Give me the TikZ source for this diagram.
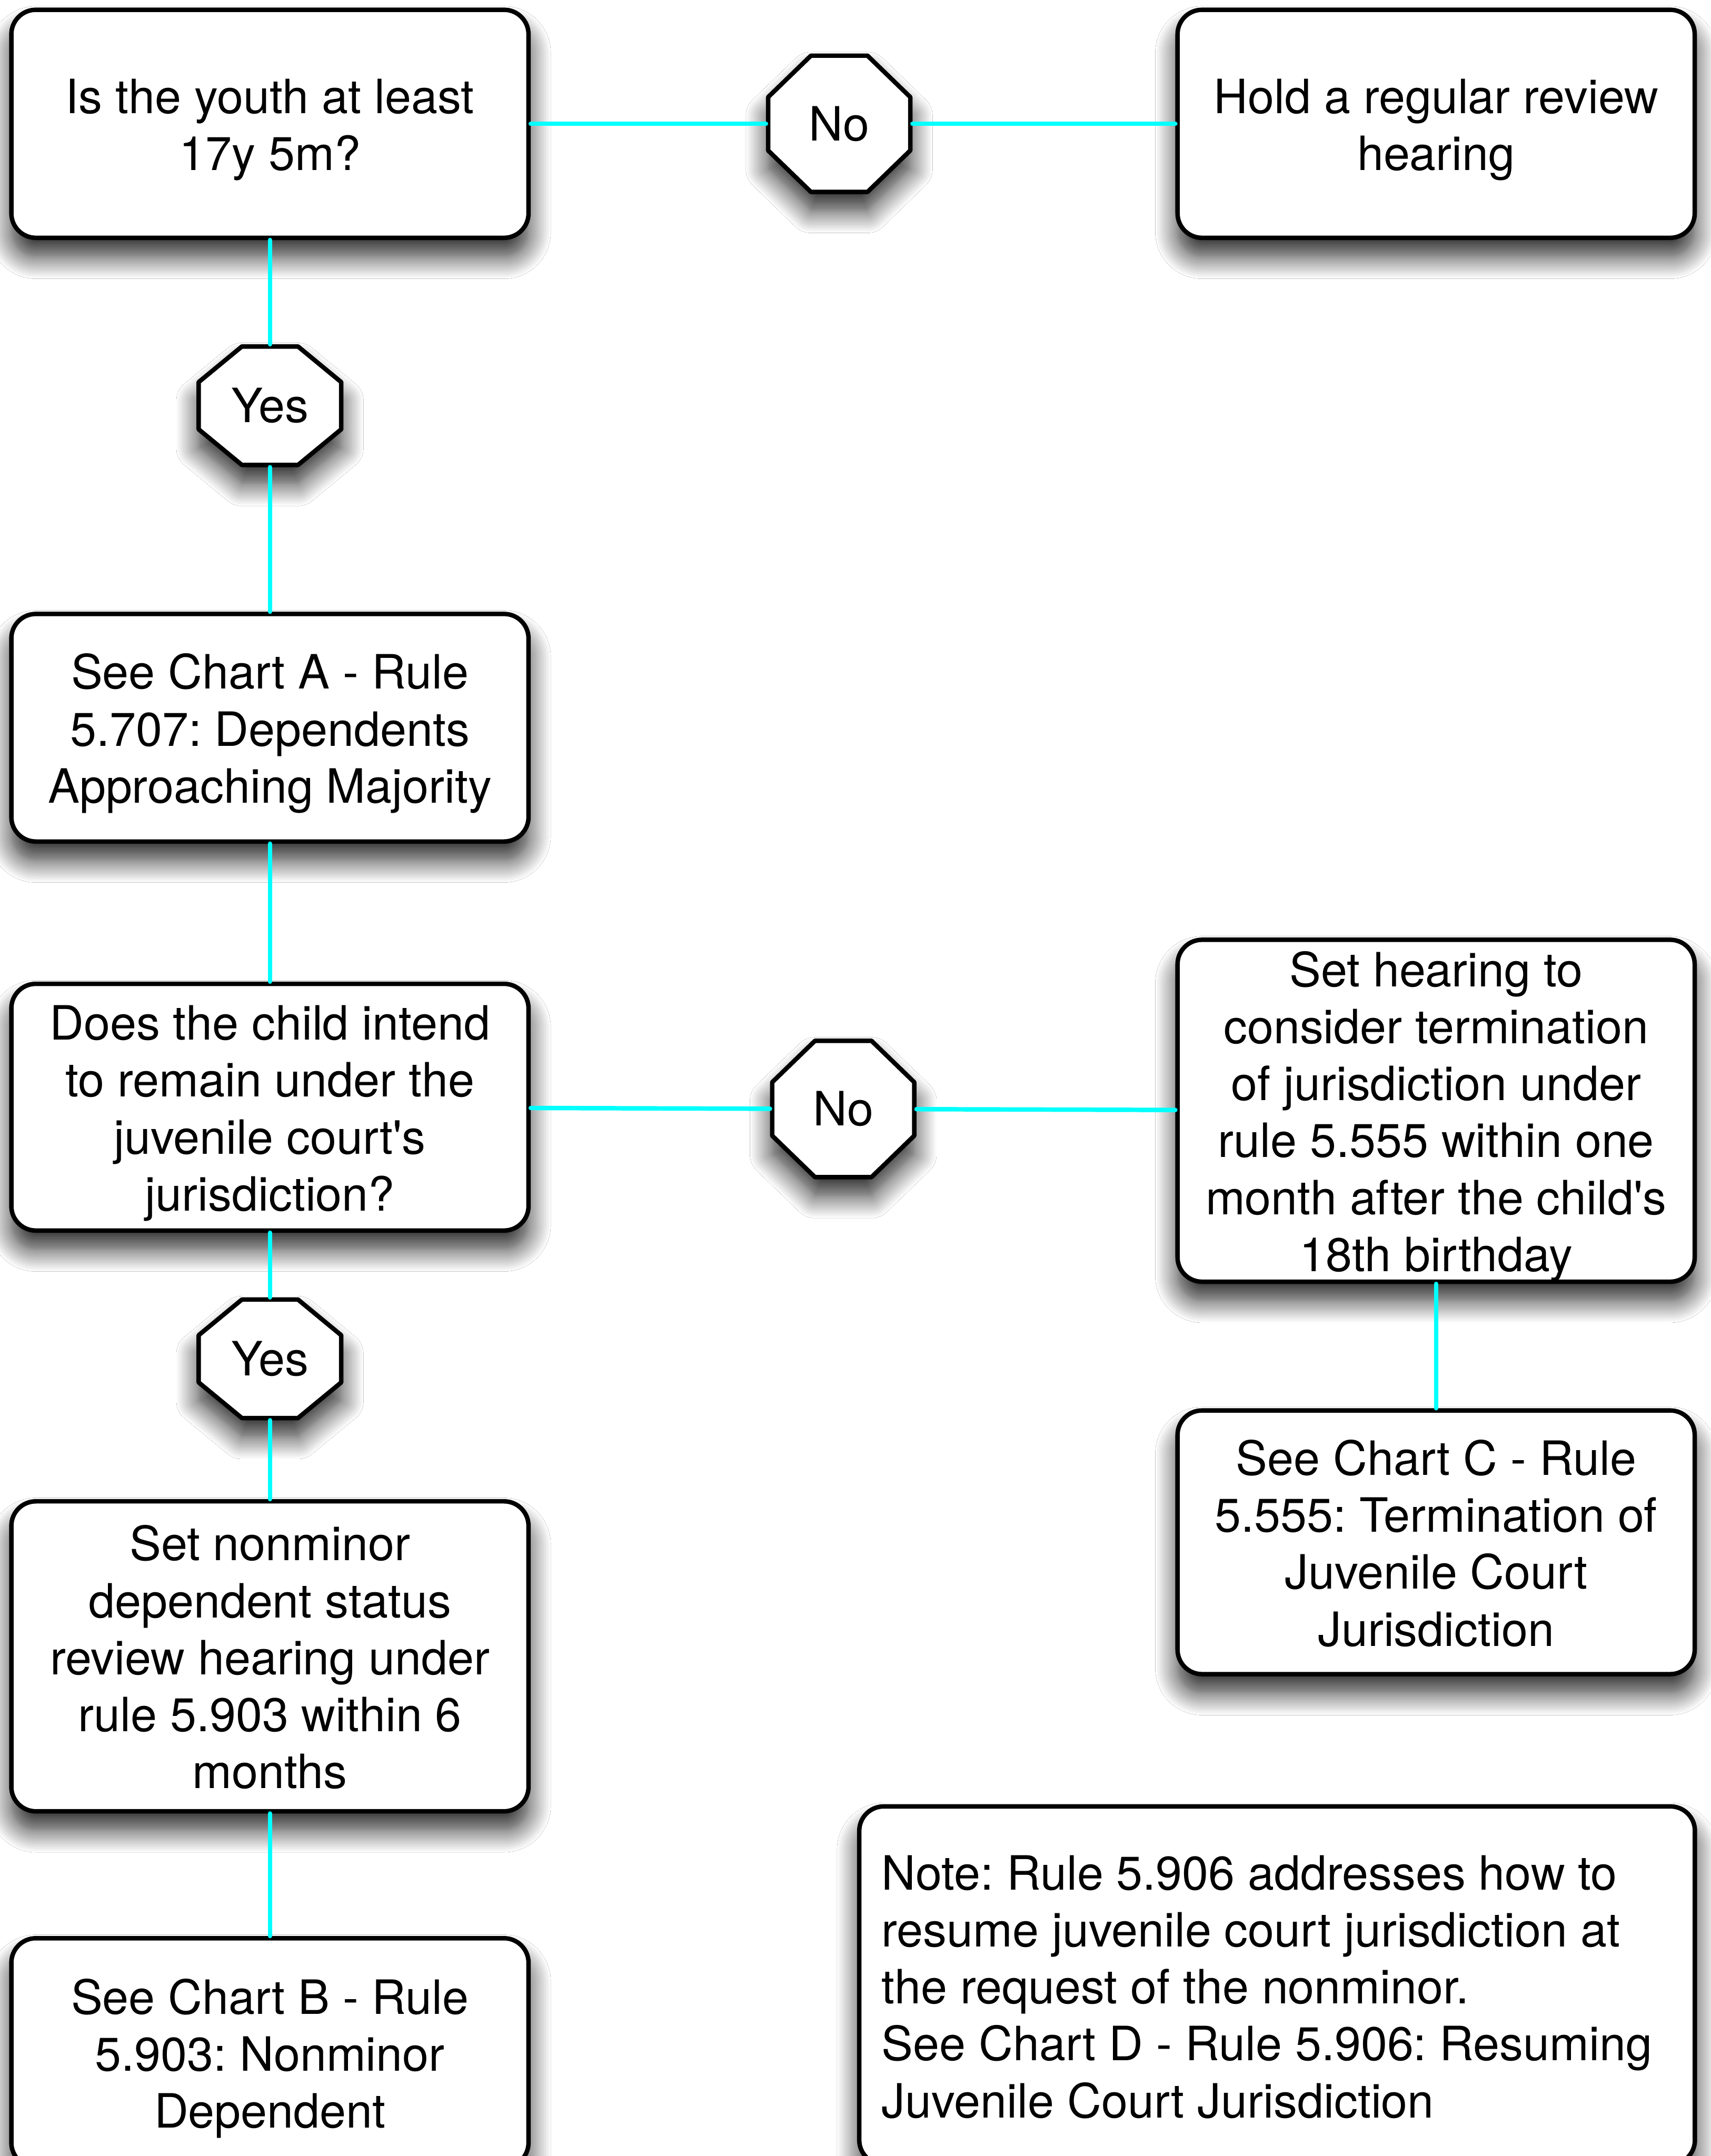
\documentclass[tikz,border=0pt]{standalone}
\usepackage{fontspec}
\setmainfont{TeX Gyre Heros}[Ligatures=TeXOff]
\usetikzlibrary{calc,shadows.blur}

\definecolor{linkcyan}{RGB}{0,255,255}
\newcommand{\chartfont}{\fontsize{30.2pt}{36.4pt}\selectfont\frenchspacing}

% octagon: name, centre, label, half width, half height, chamfer x, chamfer y
\newcommand{\octagonnode}[7]{%
  \path[octline] ($#2+({#6-#4},#5)$) -- ++({2*(#4-#6)},0) -- ++(#6,-#7)
    -- ++(0,{-2*(#5-#7)}) -- ++(-#6,-#7) -- ++({-2*(#4-#6)},0)
    -- ++(-#6,#7) -- ++(0,{2*(#5-#7)}) -- cycle;
  \node[octlabel, minimum width=2*#4cm, minimum height=2*#5cm] (#1) at #2 {#3};}

\tikzset{
  softshadow/.style={blur shadow={shadow xshift=0cm, shadow yshift=-0.42cm,
      shadow blur radius=0.5cm, shadow blur steps=14, shadow opacity=85}},
  card/.style={rectangle, rounded corners=0.55cm, draw=black, line width=0.1cm,
      fill=white, minimum width=11.61cm, inner sep=0cm, align=flush center,
      text width=11.3cm, font=\chartfont, softshadow,
      execute at begin node={\rule{0pt}{1.05cm}},
      execute at end node={\rule[-0.23cm]{0pt}{0pt}}},
  note/.style={card, minimum width=18.76cm, align=flush left, text width=17.75cm},
  octline/.style={draw=black, line width=0.1cm, fill=white, line join=round, softshadow},
  octlabel/.style={rectangle, inner sep=0cm, outer sep=0.05cm, font=\chartfont},
  link/.style={draw=linkcyan, line width=0.1cm, line cap=round},
}

\begin{document}
\begin{tikzpicture}
\useasboundingbox (0,0) rectangle (38.4,-48.41);
\fill[white] (0,0) rectangle (38.4,-48.41);

% left column
\node[card, minimum height=5.12cm] (youth) at (6.06,-2.78) {Is the youth at least\\17y 5m?};
\node[card, minimum height=5.11cm] (chartA) at (6.06,-16.34) {See Chart A - Rule\\5.707: Dependents\\Approaching Majority};
\node[card, minimum height=5.54cm] (intend) at (6.06,-24.86) {Does the child intend\\to remain under the\\juvenile court's\\jurisdiction?};
\node[card, minimum height=6.96cm] (nonminor) at (6.06,-37.19) {Set nonminor\\dependent status\\review hearing under\\rule 5.903 within 6\\months};
\node[card, minimum height=5.14cm] (chartB) at (6.06,-46.09) {See Chart B - Rule\\5.903: Nonminor\\Dependent};

% right column
\node[card, minimum height=5.12cm] (regular) at (32.24,-2.78) {Hold a regular review\\hearing};
\node[card, minimum height=7.48cm] (terminate) at (32.24,-24.94) {Set hearing to\\consider termination\\of jurisdiction under\\rule 5.555 within one\\month after the child's\\18th birthday};
\node[card, minimum height=5.92cm] (chartC) at (32.24,-34.63) {See Chart C - Rule\\5.555: Termination of\\Juvenile Court\\Jurisdiction};
\node[note, minimum height=8.04cm] (resume) at (28.67,-44.58) {Note: Rule 5.906 addresses how to\\resume juvenile court jurisdiction at\\the request of the nonminor.\\See Chart D - Rule 5.906: Resuming\\Juvenile Court Jurisdiction};

% answers
\octagonnode{no1}{(18.84,-2.78)}{No}{1.595}{1.53}{0.96}{0.93}
\octagonnode{yes1}{(6.06,-9.11)}{Yes}{1.6}{1.33}{0.97}{0.80}
\octagonnode{no2}{(18.93,-24.90)}{No}{1.595}{1.53}{0.96}{0.93}
\octagonnode{yes2}{(6.06,-30.51)}{Yes}{1.6}{1.33}{0.97}{0.80}

% connectors
\foreach \a/\b in {youth/no1, no1/regular, youth/yes1, yes1/chartA, chartA/intend,
                   intend/no2, no2/terminate, terminate/chartC,
                   intend/yes2, yes2/nonminor, nonminor/chartB}
  \draw[link] (\a) -- (\b);
\end{tikzpicture}
\end{document}
